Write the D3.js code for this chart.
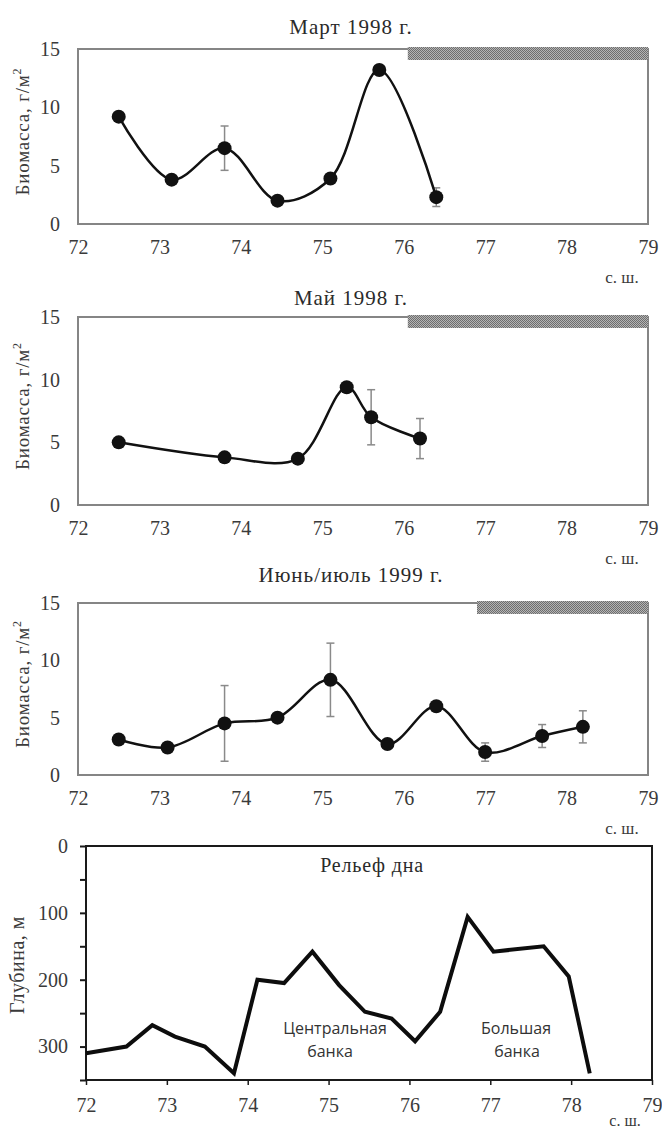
<!DOCTYPE html>
<html>
<head>
<meta charset="utf-8">
<script src="https://cdn.jsdelivr.net/npm/d3@7/dist/d3.min.js"></script>
<style>
  html, body { margin: 0; padding: 0; background: #fff; }
  svg { display: block; }
  .tick text { font-family: "Liberation Serif", "Times New Roman", serif; fill: #3a3a3a; }
</style>
</head>
<body>
<svg id="chart" width="662" height="1131"></svg>
<script>
// Latitude ticks shared by all panels
const latTicks = [72, 73, 74, 75, 76, 77, 78, 79];
const bioTicks = [0, 5, 10, 15];
const depthLabelTicks = [0, 100, 200, 300];
const depthMinorTicks = [0, 50, 100, 150, 200, 250, 300, 350];

// Biomass, March 1998
const latMar98 = [72.5, 73.15, 73.8, 74.45, 75.1, 75.7, 76.4];
const bioMar98 = [9.2, 3.8, 6.5, 2.0, 3.9, 13.2, 2.3];
const errMar98 = [0, 0, 1.9, 0, 0, 0, 0.8];

// Biomass, May 1998
const latMay98 = [72.5, 73.8, 74.7, 75.3, 75.6, 76.2];
const bioMay98 = [5.0, 3.8, 3.7, 9.4, 7.0, 5.3];
const errMay98 = [0, 0, 0, 0, 2.2, 1.6];

// Biomass, June/July 1999
const latJun99 = [72.5, 73.1, 73.8, 74.45, 75.1, 75.8, 76.4, 77.0, 77.7, 78.2];
const bioJun99 = [3.1, 2.4, 4.5, 5.0, 8.3, 2.7, 6.0, 2.0, 3.4, 4.2];
const errJun99 = [0, 0, 3.3, 0, 3.2, 0, 0, 0.8, 1.0, 1.4];

// Southern edge of the ice band for each survey
const iceEdge = [76.05, 76.05, 76.9];

// Bottom relief along the section
const latRelief = [72.0, 72.5, 72.82, 73.1, 73.47, 73.83, 74.12, 74.45, 74.8, 75.13,
                   75.45, 75.78, 76.07, 76.38, 76.72, 77.04, 77.66, 77.97, 78.23];
const depthRelief = [310, 300, 268, 285, 300, 340, 200, 205, 158, 208,
                     248, 258, 292, 248, 106, 158, 150, 195, 340];

const titles = ["Март 1998 г.", "Май 1998 г.", "Июнь/июль 1999 г."];

const svg = d3.select("#chart");
const serif = '"Liberation Serif", "Times New Roman", serif';

// Ice band fill: fine dotted grey texture
const defs = svg.append("defs");
const pat = defs.append("pattern")
  .attr("id", "ice").attr("patternUnits", "userSpaceOnUse")
  .attr("width", 2).attr("height", 2);
pat.append("rect").attr("width", 2).attr("height", 2).attr("fill", "#b4b4b4");
pat.append("rect").attr("width", 1).attr("height", 1).attr("fill", "#6e6e6e");
pat.append("rect").attr("x", 1).attr("y", 1).attr("width", 1).attr("height", 1).attr("fill", "#6e6e6e");

const panels = [
  { lat: latMar98, bio: bioMar98, err: errMar98, top: 49, bottom: 224, titleY: 27 },
  { lat: latMay98, bio: bioMay98, err: errMay98, top: 317, bottom: 505, titleY: 298 },
  { lat: latJun99, bio: bioJun99, err: errJun99, top: 603, bottom: 775, titleY: 575 }
];
const left = 78, right = 648;

panels.forEach((p, i) => {
  const g = svg.append("g");
  const x = d3.scaleLinear().domain([72, 79]).range([left, right]);
  const y = d3.scaleLinear().domain([0, 15]).range([p.bottom, p.top]);

  // frame
  g.append("rect")
    .attr("x", left).attr("y", p.top)
    .attr("width", right - left).attr("height", p.bottom - p.top)
    .attr("fill", "none").attr("stroke", "#858585").attr("stroke-width", 2);

  // ice band along the top edge
  g.append("rect")
    .attr("x", x(iceEdge[i])).attr("y", p.top - 2)
    .attr("width", x(79) - x(iceEdge[i])).attr("height", 13)
    .attr("fill", "url(#ice)");

  // axes (labels only)
  const xa = g.append("g").attr("transform", `translate(0,${p.bottom})`)
    .call(d3.axisBottom(x).tickValues(latTicks).tickSize(0).tickPadding(16).tickFormat(d3.format("d")));
  xa.select(".domain").remove();
  xa.selectAll("text").attr("font-size", 20);

  const ya = g.append("g").attr("transform", `translate(${left},0)`)
    .call(d3.axisLeft(y).tickValues(bioTicks).tickSize(0).tickPadding(18).tickFormat(d3.format("d")));
  ya.select(".domain").remove();
  ya.selectAll("text").attr("font-size", 20);

  // titles
  g.append("text").attr("x", 351).attr("y", p.titleY).attr("dy", "0.35em")
    .attr("text-anchor", "middle").attr("font-family", serif).attr("font-size", 21)
    .attr("letter-spacing", 1).attr("fill", "#2a2a2a").text(titles[i]);

  // y axis title
  const yt = g.append("text")
    .attr("transform", `translate(22,${(p.top + p.bottom) / 2 - 5}) rotate(-90)`)
    .attr("text-anchor", "middle").attr("dy", "0.35em")
    .attr("font-family", serif).attr("font-size", 19).attr("letter-spacing", 0.8)
    .attr("fill", "#3a3a3a");
  yt.append("tspan").text("Биомасса, г/м");
  yt.append("tspan").attr("font-size", 12).attr("dy", "-0.6em").text("2");

  // x axis unit
  g.append("text").attr("x", 622).attr("y", p.bottom + 53).attr("dy", "0.35em")
    .attr("text-anchor", "middle").attr("font-family", serif).attr("font-size", 17)
    .attr("fill", "#3a3a3a").text("с. ш.");

  const data = p.lat.map((d, k) => ({ lat: d, v: p.bio[k], e: p.err[k] }));

  // error bars
  const eb = g.append("g").attr("stroke", "#8a8a8a").attr("stroke-width", 1.5);
  data.filter(d => d.e > 0).forEach(d => {
    const cx = x(d.lat);
    eb.append("line").attr("x1", cx).attr("x2", cx).attr("y1", y(d.v - d.e)).attr("y2", y(d.v + d.e));
    eb.append("line").attr("x1", cx - 4).attr("x2", cx + 4).attr("y1", y(d.v - d.e)).attr("y2", y(d.v - d.e));
    eb.append("line").attr("x1", cx - 4).attr("x2", cx + 4).attr("y1", y(d.v + d.e)).attr("y2", y(d.v + d.e));
  });

  // smoothed biomass line
  const line = d3.line().x(d => x(d.lat)).y(d => y(d.v)).curve(d3.curveCatmullRom.alpha(0.5));
  g.append("path").datum(data).attr("d", line)
    .attr("fill", "none").attr("stroke", "#111").attr("stroke-width", 2.5);

  // markers
  g.selectAll("circle.pt").data(data).join("circle")
    .attr("class", "pt").attr("cx", d => x(d.lat)).attr("cy", d => y(d.v)).attr("r", 7)
    .attr("fill", "#111");
});

// ---- Bottom relief panel ----
(function () {
  const top = 846, bottom = 1080, l = 86, r = 652;
  const g = svg.append("g");
  const x = d3.scaleLinear().domain([72, 79]).range([l, r]);
  const y = d3.scaleLinear().domain([0, 350]).range([top, bottom]);

  g.append("rect").attr("x", l).attr("y", top).attr("width", r - l).attr("height", bottom - top)
    .attr("fill", "none").attr("stroke", "#1a1a1a").attr("stroke-width", 2);

  // left axis: minor ticks every 50 m, labels every 100 m
  const ya = g.append("g").attr("transform", `translate(${l},0)`)
    .call(d3.axisLeft(y).tickValues(depthMinorTicks).tickSize(6).tickPadding(12)
      .tickFormat(d => depthLabelTicks.includes(d) ? d : ""));
  ya.select(".domain").remove();
  ya.selectAll("line").attr("stroke", "#1a1a1a").attr("stroke-width", 2);
  ya.selectAll("text").attr("font-size", 20);

  const xa = g.append("g").attr("transform", `translate(0,${bottom})`)
    .call(d3.axisBottom(x).tickValues(latTicks).tickSize(5).tickPadding(13).tickFormat(d3.format("d")));
  xa.select(".domain").remove();
  xa.selectAll("line").attr("stroke", "#1a1a1a").attr("stroke-width", 1.5);
  xa.selectAll("text").attr("font-size", 20);

  g.append("text").attr("transform", `translate(17,${(top + bottom) / 2 + 2}) rotate(-90)`)
    .attr("text-anchor", "middle").attr("dy", "0.35em")
    .attr("font-family", serif).attr("font-size", 20).attr("letter-spacing", 0.5)
    .attr("fill", "#3a3a3a").text("Глубина, м");

  g.append("text").attr("x", 625).attr("y", 1120).attr("dy", "0.35em")
    .attr("text-anchor", "middle").attr("font-family", serif).attr("font-size", 16)
    .attr("fill", "#3a3a3a").text("с. ш.");

  g.append("text").attr("x", 372).attr("y", 865).attr("dy", "0.35em")
    .attr("text-anchor", "middle").attr("font-family", serif).attr("font-size", 20)
    .attr("letter-spacing", 0.8).attr("fill", "#2a2a2a").text("Рельеф дна");

  const sans = '"Open Sans", "Noto Sans", sans-serif';
  [["Центральная", 335, 1028], ["банка", 330, 1051], ["Большая", 516, 1028], ["банка", 517, 1051]]
    .forEach(([t, tx, ty]) => {
      g.append("text").attr("x", tx).attr("y", ty).attr("dy", "0.35em")
        .attr("text-anchor", "middle").attr("font-family", sans).attr("font-size", 16)
        .attr("fill", "#333").text(t);
    });

  const reliefData = latRelief.map((d, k) => ({ lat: d, z: depthRelief[k] }));
  g.append("path").datum(reliefData)
    .attr("d", d3.line().x(d => x(d.lat)).y(d => y(d.z)))
    .attr("fill", "none").attr("stroke", "#0d0d0d").attr("stroke-width", 4)
    .attr("stroke-linejoin", "miter");
})();
</script>
</body>
</html>
